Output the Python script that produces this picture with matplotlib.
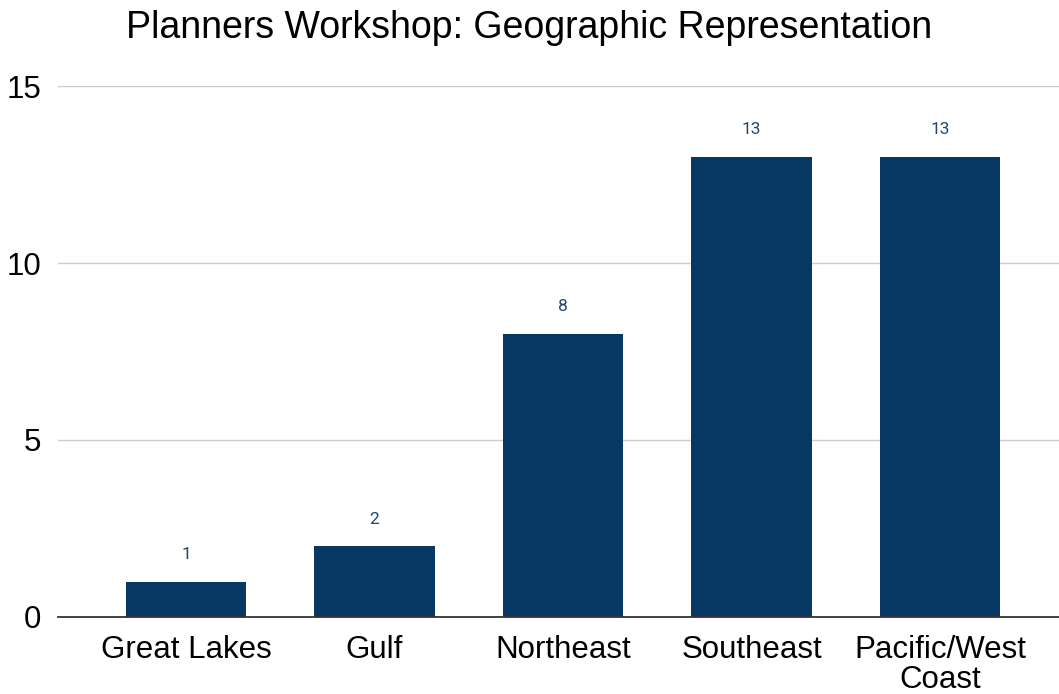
import matplotlib.pyplot as plt
import numpy as np

regions = ['Great Lakes', 'Gulf', 'Northeast', 'Southeast', 'Pacific/West\nCoast']
counts = [1, 2, 8, 13, 13]
y_ticks = [0, 5, 10, 15]

bar_color = '#073763'
label_color = '#1f4770'

fig = plt.figure(figsize=(10.59, 6.94), dpi=100)
ax = fig.add_axes([0.0548, 0.111, 0.9452, 0.765])

x = np.arange(len(regions))
ax.bar(x, counts, width=0.64, color=bar_color, zorder=3)

for xi, c in zip(x, counts):
    ax.annotate(str(c), (xi, c), xytext=(0, 19.5), textcoords='offset points',
                ha='center', va='center', fontsize=12.5, color=label_color,
                family='Roboto')

ax.set_xlim(-0.679, 4.631)
ax.set_ylim(0, 15)
ax.set_yticks(y_ticks)
ax.set_xticks(x)
ax.set_xticklabels(regions, fontsize=22.5, family='Liberation Sans',
                   linespacing=1.0)
ax.set_yticklabels([str(t) for t in y_ticks], fontsize=22.5,
                   family='Liberation Sans')
ax.tick_params(length=0, pad=12)
ax.tick_params(axis='x', pad=13)

ax.grid(axis='y', color='#cccccc', linewidth=1, zorder=0)
for side in ['top', 'right', 'left']:
    ax.spines[side].set_visible(False)
ax.spines['bottom'].set_color('#333333')
ax.spines['bottom'].set_linewidth(1.3)
ax.spines['bottom'].set_zorder(4)

fig.suptitle('Planners Workshop: Geographic Representation', fontsize=27,
             family='Liberation Sans', y=0.985, x=0.5)

fig.savefig('out.png', dpi=100)
